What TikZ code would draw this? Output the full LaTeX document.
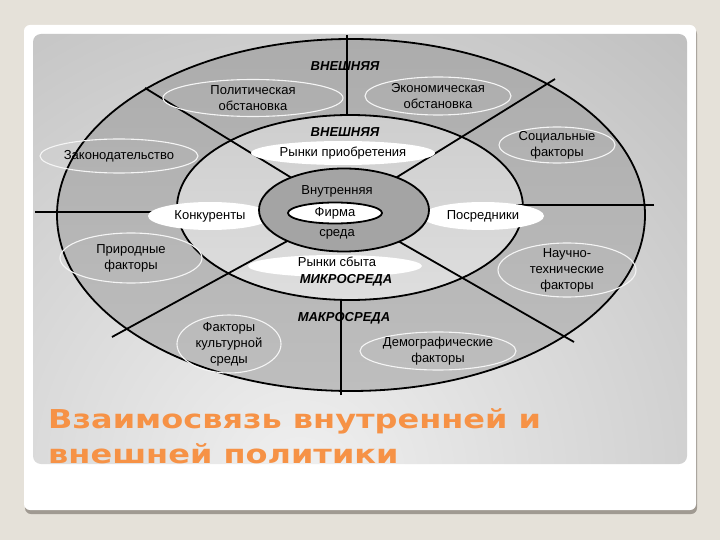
\documentclass[tikz,border=0pt]{standalone}
\usepackage{fontspec}
\setmainfont{Liberation Sans}
\newfontfamily\titlefont{DejaVu Sans}
\usetikzlibrary{shapes.geometric}
\pgfdeclarelayer{rings}
\pgfdeclarelayer{cuts}
\pgfsetlayers{rings,cuts,main}

\definecolor{slidebg}{RGB}{229,225,217}
\definecolor{cardshadow}{RGB}{160,154,146}
\definecolor{panelhi}{RGB}{240,240,240}
\definecolor{panellow}{RGB}{156,156,156}
\definecolor{outertop}{RGB}{172,172,172}
\definecolor{outerbot}{RGB}{190,190,190}
\definecolor{midtop}{RGB}{206,206,206}
\definecolor{midbot}{RGB}{222,222,222}
\definecolor{innerfill}{RGB}{164,164,164}
\definecolor{titleorange}{RGB}{246,146,70}

\tikzset{
  txt/.style={align=center, inner sep=0pt, font=\fontsize{13}{16}\selectfont},
  zone/.style={inner sep=0pt, font=\fontsize{13}{16}\selectfont\bfseries\itshape},
  factor/.style={txt, ellipse, draw=white!92!gray, line width=1.1pt, inner sep=-40pt},
  market/.style={txt, ellipse, fill=white, inner sep=-40pt},
  firmbox/.style={txt, ellipse, draw=black, fill=white, line width=1.8pt, inner sep=-40pt},
  ring/.style={ellipse, draw=black, line width=1.8pt, inner sep=0pt},
  divider/.style={line width=1.8pt},
  title/.style={anchor=base west, inner sep=0pt, xscale=1.23, text=titleorange, font=\titlefont\bfseries\fontsize{26}{30}\selectfont}
}

\begin{document}
\begin{tikzpicture}[x=1pt, y=-1pt]
\useasboundingbox (0,0) rectangle (720,540);

% slide and gray panel
\begin{pgfonlayer}{rings}
\fill[slidebg] (0,0) rectangle (720,540);
\fill[cardshadow, rounded corners=6pt] (25,28) rectangle (697,514);
\fill[white, rounded corners=6pt] (24,25) rectangle (696,510);
\begin{scope}
  \clip[rounded corners=8pt] (33,34) rectangle (687,464);
  \shade[inner color=panelhi, outer color=panellow] (300,480) circle (1040pt);
\end{scope}
\node[ring, top color=outertop, bottom color=outerbot, minimum width=588pt, minimum height=352pt] (outer) at (351,215) {};
\node[ring, top color=midtop, bottom color=midbot, minimum width=346pt, minimum height=185pt] (mid) at (350,207.5) {};
\end{pgfonlayer}

\coordinate (ul) at (145,88);
\coordinate (ur) at (555,79);
\coordinate (ll) at (112,337);
\coordinate (lr) at (574,342);
\coordinate (vt) at (347,35);
\coordinate (vb) at (341,395);
\coordinate (hl) at (35,212);
\coordinate (hr) at (654,205);

% microenvironment
\node[market, minimum width=124pt, minimum height=28pt] (konk) at (210,216) {Конкуренты};
\node[market, minimum width=122pt, minimum height=28pt] (posr) at (483,216) {Посредники};
\node[market, minimum width=184pt, minimum height=24pt] (rpriob) at (343,153) {Рынки приобретения};
\node[market, minimum width=174pt, minimum height=22pt] (rsbyt) at (335,266) {};
\node[txt] (rsbytt) at (337,262) {Рынки сбыта};

\node[ring, fill=innerfill, minimum width=170pt, minimum height=83pt] (inner) at (344,210) {};
\node[firmbox, minimum width=94pt, minimum height=21pt] (firm) at (335,213) {Фирма};
\node[txt] (innertop) at (337,191) {Внутренняя};
\node[txt] (innerbot) at (337,234) {среда};

% macroenvironment
\node[factor, minimum width=180pt, minimum height=37pt] (polit) at (253,98) {Политическая\\обстановка};
\node[factor, minimum width=146pt, minimum height=38pt] (econ) at (438,96) {Экономическая\\обстановка};
\node[factor, minimum width=116pt, minimum height=36pt] (social) at (557,145) {Социальные\\факторы};
\node[factor, minimum width=158pt, minimum height=34pt] (zakon) at (119,156) {Законодательство};
\node[factor, minimum width=142pt, minimum height=50pt] (prirod) at (131,258) {Природные\\факторы};
\node[factor, minimum width=138pt, minimum height=54pt] (nauch) at (567,270) {Научно-\\технические\\факторы};
\node[factor, minimum width=104pt, minimum height=58pt] (kult) at (229,344) {Факторы\\культурной\\среды};
\node[factor, minimum width=156pt, minimum height=38pt] (demo) at (438,351) {Демографические\\факторы};

\node[zone] (ext1) at (345,66) {ВНЕШНЯЯ};
\node[zone] (ext2) at (345,132) {ВНЕШНЯЯ};
\node[zone] (micro) at (346,280) {МИКРОСРЕДА};
\node[zone] (macro) at (344,318) {МАКРОСРЕДА};

\begin{pgfonlayer}{cuts}
\foreach \p in {ul,ur,ll,lr}
  \draw[divider] (inner.center) -- (\p);
\draw[divider] (vt) -- (vt |- mid.north);
\draw[divider] (vb) -- (vb |- mid.south);
\draw[divider] (hl) -- (hl -| konk.center);
\draw[divider] (hr) -- (hr -| posr.center);
\end{pgfonlayer}

\node[title] (title1) at (48,428) {Взаимосвязь внутренней и};
\node[title] (title2) at (48,463) {внешней политики};
\end{tikzpicture}
\end{document}
